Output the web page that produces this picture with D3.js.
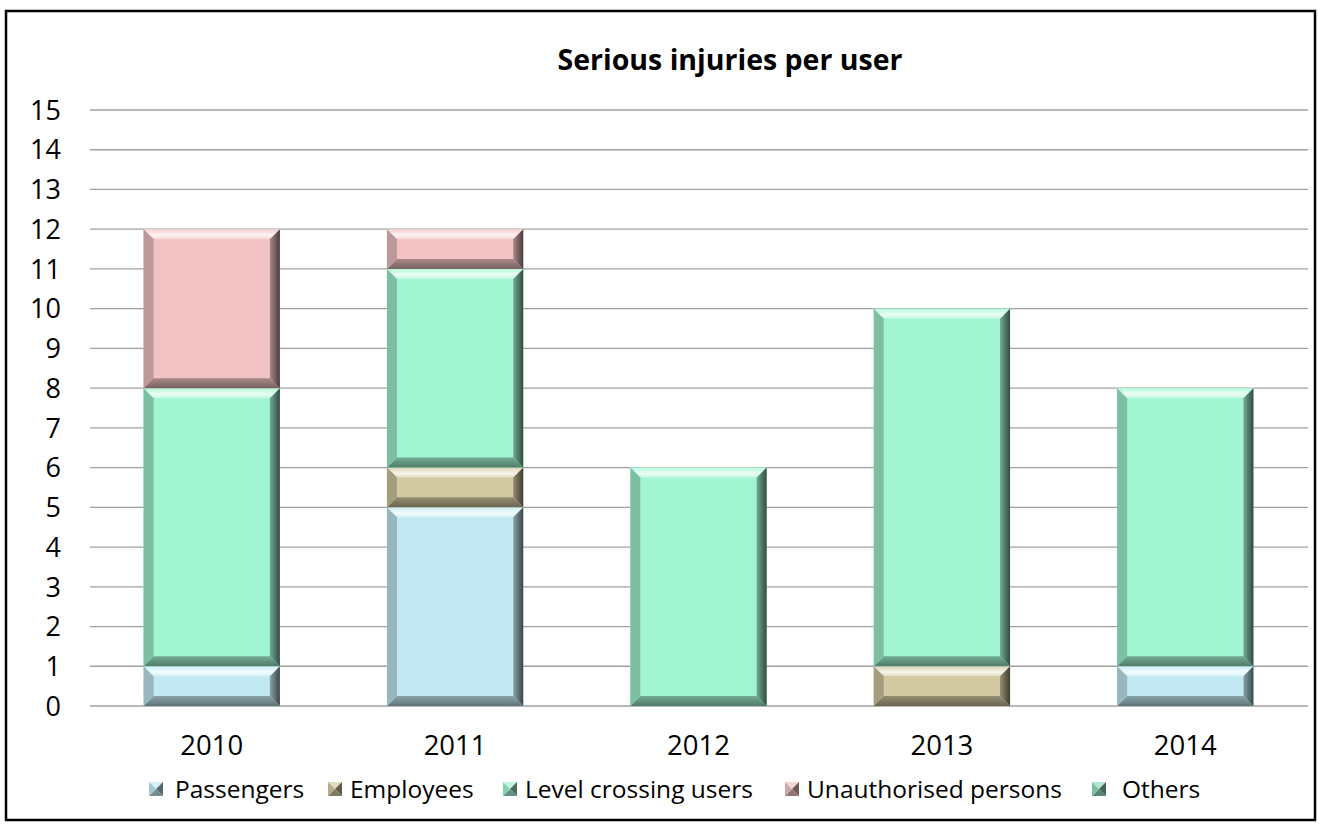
<!DOCTYPE html>
<html>
<head>
<meta charset="utf-8">
<script src="https://cdn.jsdelivr.net/npm/d3@7"></script>
<style>
  body { margin: 0; background: #fff; }
  text { font-family: "Open Sans", "Noto Sans", sans-serif; }
</style>
</head>
<body>
<div id="container"></div>
<script>
// data
const years = ["2010", "2011", "2012", "2013", "2014"];
const seriesNames = ["Passengers", "Employees", "Level crossing users", "Unauthorised persons", "Others"];
const passengers = [1, 5, 0, 0, 1];
const employees = [0, 1, 0, 1, 0];
const levelCrossing = [7, 5, 6, 9, 7];
const unauthorised = [4, 1, 0, 0, 0];
const others = [0, 0, 0, 0, 0];
const yTicks = d3.range(0, 16);
const colors = ["#c2e9f2", "#d4caa2", "#a2f5d2", "#f2c3c4", "#8fe0bd"];

const width = 1319, height = 825;
const margin = { left: 90, right: 12, top: 110, bottom: 119 };

const svg = d3.select("#container").append("svg")
  .attr("width", width).attr("height", height);

// border
svg.append("rect")
  .attr("x", 6).attr("y", 11).attr("width", 1309).attr("height", 809)
  .attr("fill", "#fff").attr("stroke", "#000").attr("stroke-width", 2.5);

const x = d3.scaleBand().domain(years)
  .range([margin.left, width - margin.right]).paddingInner(0.44).paddingOuter(0.22);
const y = d3.scaleLinear().domain([0, 15]).range([height - margin.bottom, margin.top]);

// gridlines
svg.append("g").selectAll("line").data(yTicks).join("line")
  .attr("x1", margin.left).attr("x2", width - margin.right + 1)
  .attr("y1", d => y(d)).attr("y2", d => y(d))
  .attr("stroke", "#a0a0a0").attr("stroke-width", 1.3);

// y axis labels
svg.append("g").selectAll("text").data(yTicks).join("text")
  .attr("x", 61).attr("y", d => y(d)).attr("dy", "0.36em")
  .attr("text-anchor", "end").attr("font-size", 27).attr("fill", "#000")
  .text(d => d);

// stack
const table = years.map((yr, i) => ({
  year: yr,
  "Passengers": passengers[i], "Employees": employees[i],
  "Level crossing users": levelCrossing[i], "Unauthorised persons": unauthorised[i],
  "Others": others[i]
}));
const stacked = d3.stack().keys(seriesNames)(table);

const shade = (c, k) => {
  const col = d3.rgb(c);
  return k > 0 ? d3.interpolateRgb(col, "#fff")(k) : d3.interpolateRgb(col, "#000")(-k);
};

// gradients for bevels
const defs = svg.append("defs");
colors.forEach((c, i) => {
  const gt = defs.append("linearGradient").attr("id", "top" + i).attr("x1", 0).attr("y1", 0).attr("x2", 0).attr("y2", 1);
  gt.append("stop").attr("offset", "0%").attr("stop-color", shade(c, 0.2));
  gt.append("stop").attr("offset", "60%").attr("stop-color", shade(c, 0.8));
  gt.append("stop").attr("offset", "100%").attr("stop-color", shade(c, 0.3));
  const gb = defs.append("linearGradient").attr("id", "bot" + i).attr("x1", 0).attr("y1", 0).attr("x2", 0).attr("y2", 1);
  gb.append("stop").attr("offset", "0%").attr("stop-color", shade(c, -0.3));
  gb.append("stop").attr("offset", "100%").attr("stop-color", shade(c, -0.5));
  const gr = defs.append("linearGradient").attr("id", "rgt" + i).attr("x1", 0).attr("y1", 0).attr("x2", 1).attr("y2", 0);
  gr.append("stop").attr("offset", "0%").attr("stop-color", shade(c, -0.3));
  gr.append("stop").attr("offset", "100%").attr("stop-color", shade(c, -0.7));
});

const b = 10; // bevel size
stacked.forEach((layer, si) => {
  const g = svg.append("g");
  layer.forEach(seg => {
    if (seg[1] - seg[0] <= 0) return;
    const x0 = x(seg.data.year), x1 = x0 + x.bandwidth();
    const yt = y(seg[1]), yb = y(seg[0]);
    const c = colors[si];
    g.append("rect").attr("x", x0).attr("y", yt).attr("width", x1 - x0).attr("height", yb - yt).attr("fill", c);
    g.append("polygon").attr("points", [[x0, yt], [x1, yt], [x1 - b, yt + b], [x0 + b, yt + b]].join(" "))
      .attr("fill", `url(#top${si})`);
    g.append("polygon").attr("points", [[x0, yb], [x1, yb], [x1 - b, yb - b], [x0 + b, yb - b]].join(" "))
      .attr("fill", `url(#bot${si})`);
    g.append("polygon").attr("points", [[x0, yt], [x0 + b, yt + b], [x0 + b, yb - b], [x0, yb]].join(" "))
      .attr("fill", shade(c, -0.22));
    g.append("polygon").attr("points", [[x1, yt], [x1 - b, yt + b], [x1 - b, yb - b], [x1, yb]].join(" "))
      .attr("fill", `url(#rgt${si})`);
  });
});

// x labels
svg.append("g").selectAll("text").data(years).join("text")
  .attr("x", d => x(d) + x.bandwidth() / 2).attr("y", 745).attr("dy", "0.36em")
  .attr("text-anchor", "middle").attr("font-size", 27.5).attr("fill", "#000")
  .text(d => d);

// title
svg.append("text").attr("x", 730).attr("y", 60).attr("dy", "0.36em")
  .attr("text-anchor", "middle").attr("font-size", 28.5).attr("font-weight", "bold")
  .text("Serious injuries per user");

// legend
const legendX = [149, 328, 503, 785, 1092];
const legendTextX = [175, 350, 525, 807, 1122];
const legend = svg.append("g");
seriesNames.forEach((name, i) => {
  const lx = legendX[i], ly = 782, s = 14, c = colors[i];
  const cx = lx + s / 2, cy = ly + s / 2;
  const tri = (pts, k) => legend.append("polygon").attr("points", pts.join(" ")).attr("fill", shade(c, k));
  tri([[lx, ly], [lx + s, ly], [cx, cy]], 0.3);
  tri([[lx + s, ly], [lx + s, ly + s], [cx, cy]], -0.55);
  tri([[lx, ly + s], [lx + s, ly + s], [cx, cy]], -0.4);
  tri([[lx, ly], [lx, ly + s], [cx, cy]], -0.15);
  legend.append("text").attr("x", legendTextX[i]).attr("y", cy).attr("dy", "0.36em")
    .attr("font-size", 24.5).attr("fill", "#000").text(name);
});
</script>
</body>
</html>
